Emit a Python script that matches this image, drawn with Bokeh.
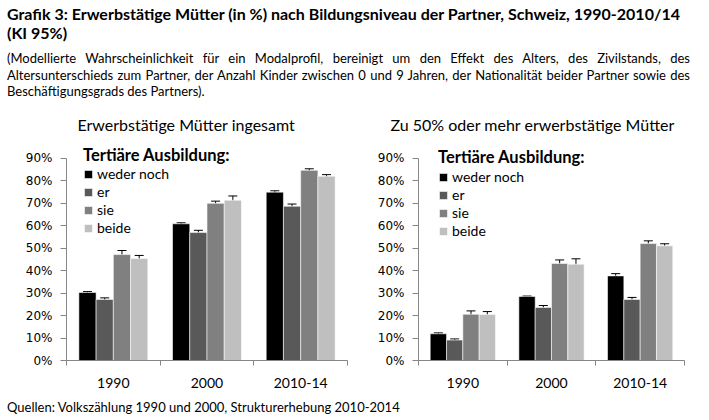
from bokeh.plotting import figure
from bokeh.models import (ColumnDataSource, Range1d, FixedTicker, NumeralTickFormatter,
                          Whisker, TeeHead, Legend, LegendItem, Div)
from bokeh.layouts import column, row
from bokeh.embed import file_html
from bokeh.resources import INLINE

# ---------------- data ----------------
years = ["1990", "2000", "2010-14"]
series = ["weder noch", "er", "sie", "beide"]
colors = ["#000000", "#595959", "#808080", "#bfbfbf"]

# Erwerbstätige Mütter ingesamt (%), with 95% CI half-widths
total_weder = [30.3, 60.9, 75.0]
total_er = [27.2, 57.0, 68.7]
total_sie = [47.2, 70.0, 84.7]
total_beide = [45.4, 71.4, 82.1]
total_ci_weder = [0.4, 0.45, 0.6]
total_ci_er = [0.7, 1.0, 1.0]
total_ci_sie = [1.8, 1.0, 0.7]
total_ci_beide = [1.4, 1.9, 0.7]

# Zu 50% oder mehr erwerbstätige Mütter (%)
half_weder = [11.9, 28.5, 37.7]
half_er = [9.1, 23.6, 27.2]
half_sie = [20.6, 43.2, 52.1]
half_beide = [20.5, 42.9, 51.1]
half_ci_weder = [0.4, 0.2, 1.0]
half_ci_er = [0.5, 0.9, 0.9]
half_ci_sie = [1.5, 1.6, 1.2]
half_ci_beide = [1.3, 2.4, 0.9]

y_ticks = [0, 10, 20, 30, 40, 50, 60, 70, 80, 90]

FONT = "Lato"
AXIS_COLOR = "#868686"
BAR_W = 0.184


def make_chart(title, vals, cis, width, mb_left, mb_right, title_off, leg_x, leg_y, title_standoff):
    p = figure(width=width, height=284, output_backend="svg", toolbar_location=None,
               x_range=Range1d(0, 3), y_range=Range1d(0, 0.989),
               min_border_left=mb_left, min_border_right=mb_right,
               min_border_top=30, min_border_bottom=32, margin=0)
    p.outline_line_color = None
    p.xgrid.visible = False
    p.ygrid.visible = False
    p.background_fill_color = "white"
    p.border_fill_color = "white"

    p.title.text = title
    p.title.align = "left"
    p.title.offset = title_off
    p.title.standoff = 9
    p.title.text_font = FONT
    p.title.text_font_size = "16px"
    p.title.text_font_style = "normal"
    p.title.text_color = "#000000"

    items = []
    for j, (name, col) in enumerate(zip(series, colors)):
        xs = [i + 0.5 + (j - 1.5) * BAR_W for i in range(len(years))]
        top = [v / 100 for v in vals[j]]
        upper = [(v + c) / 100 for v, c in zip(vals[j], cis[j])]
        lower = [(v - c) / 100 for v, c in zip(vals[j], cis[j])]
        src = ColumnDataSource(dict(x=xs, top=top, upper=upper, lower=lower))
        r = p.vbar(x="x", top="top", width=BAR_W, source=src, fill_color=col,
                   line_color="white", line_width=0.8, line_alpha=0.7)
        w = Whisker(source=src, base="x", upper="upper", lower="lower", dimension="height",
                    line_color="black", line_width=1,
                    upper_head=TeeHead(size=9, line_color="black", line_width=1),
                    lower_head=TeeHead(size=9, line_color="black", line_width=1))
        p.add_layout(w)
        items.append(LegendItem(label=name, renderers=[r]))

    ya = p.yaxis[0]
    ya.ticker = FixedTicker(ticks=[t / 100 for t in y_ticks], minor_ticks=[])
    ya.formatter = NumeralTickFormatter(format="0%")
    ya.bounds = (0, 0.9)
    ya.axis_line_color = AXIS_COLOR
    ya.major_tick_line_color = AXIS_COLOR
    ya.major_tick_in = 0
    ya.major_tick_out = 6
    ya.major_label_standoff = 8
    ya.major_label_text_font = "DejaVu Sans"
    ya.major_label_text_font_size = "12px"
    ya.major_label_text_color = "#000000"

    xa = p.xaxis[0]
    xa.ticker = FixedTicker(ticks=[i + 0.5 for i in range(len(years))],
                            minor_ticks=[float(i) for i in range(len(years) + 1)])
    xa.major_label_overrides = {i + 0.5: y for i, y in enumerate(years)}
    xa.axis_line_color = AXIS_COLOR
    xa.major_tick_line_color = None
    xa.major_tick_in = 0
    xa.major_tick_out = 0
    xa.minor_tick_line_color = AXIS_COLOR
    xa.minor_tick_in = 0
    xa.minor_tick_out = 5
    xa.major_label_standoff = 12
    xa.major_label_text_font = FONT
    xa.major_label_text_font_size = "14px"
    xa.major_label_text_color = "#000000"

    leg = Legend(items=items, location=(leg_x, leg_y), title="Tertiäre Ausbildung:",
                 title_text_font=FONT, title_text_font_style="bold",
                 title_text_font_size="16.5px", title_text_color="#000000",
                 title_standoff=title_standoff,
                 label_text_font=FONT, label_text_font_size="14px",
                 label_text_color="#000000",
                 glyph_width=10, glyph_height=10, label_height=16, label_standoff=4,
                 spacing=1, padding=0, margin=0,
                 border_line_color=None, background_fill_alpha=0)
    p.add_layout(leg)
    return p


p1 = make_chart("Erwerbstätige Mütter ingesamt",
                [total_weder, total_er, total_sie, total_beide],
                [total_ci_weder, total_ci_er, total_ci_sie, total_ci_beide],
                354, 66, 7, 11, 17, 124, 0)
p2 = make_chart("Zu 50% oder mehr erwerbstätige Mütter",
                [half_weder, half_er, half_sie, half_beide],
                [half_ci_weder, half_ci_er, half_ci_sie, half_ci_beide],
                347, 64, 17, -28, 20, 121, 1)

just = "text-align:justify; text-align-last:justify;"
header_html = (
    '<div style="padding:4px 0 0 7px; width:690px; font-family:Lato; color:#000;">'
    '<div style="font-weight:bold; font-size:16px; line-height:19px;">'
    'Grafik 3: Erwerbstätige Mütter (in %) nach Bildungsniveau der Partner, Schweiz, 1990-2010/14<br>(KI 95%)</div>'
    '<div style="font-size:13px; line-height:16.7px; margin-top:8px;">'
    f'<div style="{just}">(Modellierte Wahrscheinlichkeit für ein Modalprofil, bereinigt um den Effekt des Alters, des Zivilstands, des</div>'
    f'<div style="{just}">Altersunterschieds zum Partner, der Anzahl Kinder zwischen 0 und 9 Jahren, der Nationalität beider Partner sowie des</div>'
    '<div>Beschäftigungsgrads des Partners).</div>'
    '</div></div>'
)
header = Div(text=header_html, width=701, height=108, margin=0)
footer = Div(text='<div style="padding:7px 0 0 7px; font-family:Lato; font-size:13px; '
                  'line-height:17px; color:#000;">Quellen: Volkszählung 1990 und 2000, Strukturerhebung 2010-2014</div>',
             width=701, height=25, margin=0)

layout = column(header, row(p1, p2, margin=0, spacing=0), footer, margin=0, spacing=0)
open("out.html", "w").write(file_html(layout, INLINE))
